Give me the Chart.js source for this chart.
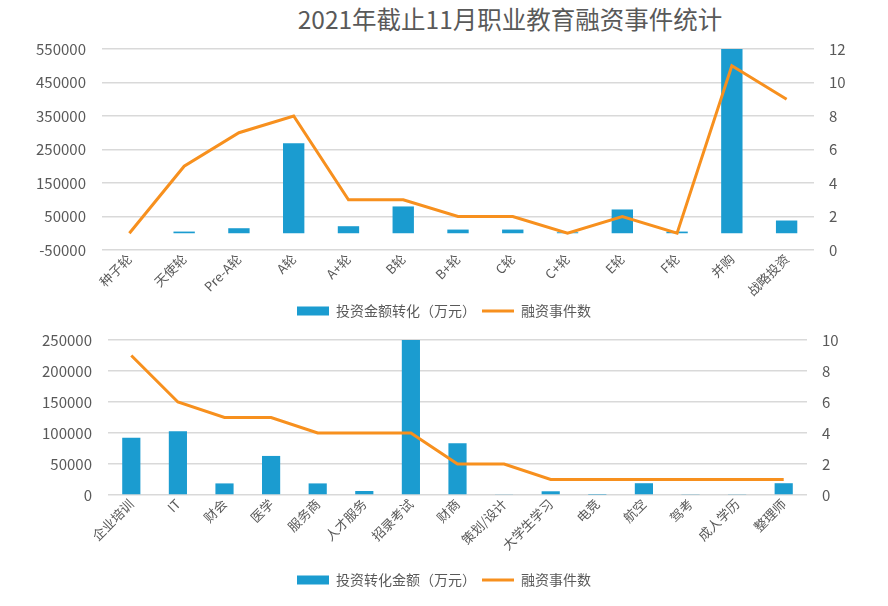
<!DOCTYPE html>
<html>
<head>
<meta charset="utf-8">
<script src="https://cdn.jsdelivr.net/npm/chart.js@4.4.1/dist/chart.umd.min.js"></script>
<style>
  body { margin: 0; background: #fff; width: 888px; height: 606px; overflow: hidden; position: relative; font-family: "Noto Sans CJK SC", sans-serif; }
  #title { position: absolute; left: 0; top: 1px; width: 1020px; text-align: center; font-size: 24.5px; color: #595959; }
  .box { position: absolute; left: 0; width: 888px; }
  #top_box { top: 24px; height: 304px; }
  #bottom_box { top: 315px; height: 282px; }
</style>
</head>
<body>
<div id="title">2021年截止11月职业教育融资事件统计</div>
<div class="box" id="top_box"><canvas id="roundChart"></canvas></div>
<div class="box" id="bottom_box"><canvas id="fieldChart"></canvas></div>
<script>
// top chart: by financing round
var Rounds = ['种子轮', '天使轮', 'Pre-A轮', 'A轮', 'A+轮', 'B轮', 'B+轮', 'C轮', 'C+轮', 'E轮', 'F轮', '并购', '战略投资'];
var Round_Amount = [0, 5000, 15000, 269000, 21000, 80000, 11000, 11000, 3000, 71000, 5000, 550000, 38000];
var Round_Events = [1, 5, 7, 8, 3, 3, 2, 2, 1, 2, 1, 11, 9];

// bottom chart: by field
var Fields = ['企业培训', 'IT', '财会', '医学', '服务商', '人才服务', '招录考试', '财商', '策划/设计', '大学生学习', '电竞', '航空', '驾考', '成人学历', '整理师'];
var Field_Amount = [92500, 103000, 18700, 63000, 18700, 6500, 252000, 83500, 1000, 6000, 500, 19000, 1500, 1500, 19000];
var Field_Events = [9, 6, 5, 5, 4, 4, 4, 2, 2, 1, 1, 1, 1, 1, 1];

var BAR_COLOR = '#1b9cd0';
var LINE_COLOR = '#f7901e';
var TEXT_COLOR = '#595959';
var GRID_COLOR = '#d9d9d9';
var FONT = '"Noto Sans CJK SC", sans-serif';

Chart.defaults.font.family = FONT;
Chart.defaults.color = TEXT_COLOR;

function makeChart(canvasId, labels, amounts, events, barLabel, opt) {
    var ctx = document.getElementById(canvasId).getContext('2d');
    return new Chart(ctx, {
        data: {
            labels: labels,
            datasets: [{
                type: 'line',
                label: '融资事件数',
                data: events,
                yAxisID: 'y1',
                borderColor: LINE_COLOR,
                backgroundColor: LINE_COLOR,
                borderWidth: 3,
                pointRadius: 0,
                pointStyle: 'line',
                tension: 0,
                order: 1
            }, {
                type: 'bar',
                label: barLabel,
                data: amounts,
                yAxisID: 'y',
                backgroundColor: BAR_COLOR,
                pointStyle: 'rect',
                categoryPercentage: 1,
                barPercentage: 0.39,
                order: 2
            }]
        },
        options: {
            responsive: true,
            maintainAspectRatio: false,
            animation: false,
            layout: { padding: 0 },
            plugins: {
                legend: {
                    position: 'bottom',
                    reverse: true,
                    labels: {
                        usePointStyle: true,
                        pointStyleWidth: 32,
                        boxHeight: 9,
                        padding: 6,
                        font: { size: 14 },
                        color: TEXT_COLOR
                    }
                },
                tooltip: { enabled: false }
            },
            scales: {
                x: {
                    grid: { display: false, drawTicks: false },
                    border: { display: false },
                    ticks: { minRotation: 45, maxRotation: 45, autoSkip: false, padding: 2, font: { size: 13, lineHeight: 1 } },
                    afterFit: function(scale) { scale.height = opt.xHeight; }
                },
                y: {
                    position: 'left',
                    min: opt.yMin,
                    max: opt.yMax,
                    grid: { color: GRID_COLOR, lineWidth: 1.5, drawTicks: false },
                    border: { display: false },
                    ticks: {
                        stepSize: opt.yStep,
                        padding: 16,
                        font: { size: 15 },
                        callback: function(value) { return String(value); }
                    },
                    afterFit: function(scale) { scale.width = opt.leftW; }
                },
                y1: {
                    position: 'right',
                    min: 0,
                    max: opt.y1Max,
                    grid: { display: false, drawTicks: false },
                    border: { display: false },
                    ticks: { stepSize: 2, padding: 15, font: { size: 15 } },
                    afterFit: function(scale) { scale.width = opt.rightW; }
                }
            }
        }
    });
}

var roundChart = makeChart('roundChart', Rounds, Round_Amount, Round_Events, '投资金额转化（万元）', {
    xHeight: 48, yMin: -50000, yMax: 550000, yStep: 100000, y1Max: 12, leftW: 102, rightW: 74
});

var fieldChart = makeChart('fieldChart', Fields, Field_Amount, Field_Events, '投资转化金额（万元）', {
    xHeight: 72, yMin: 0, yMax: 250000, yStep: 50000, y1Max: 10, leftW: 108, rightW: 81
});
</script>
</body>
</html>
